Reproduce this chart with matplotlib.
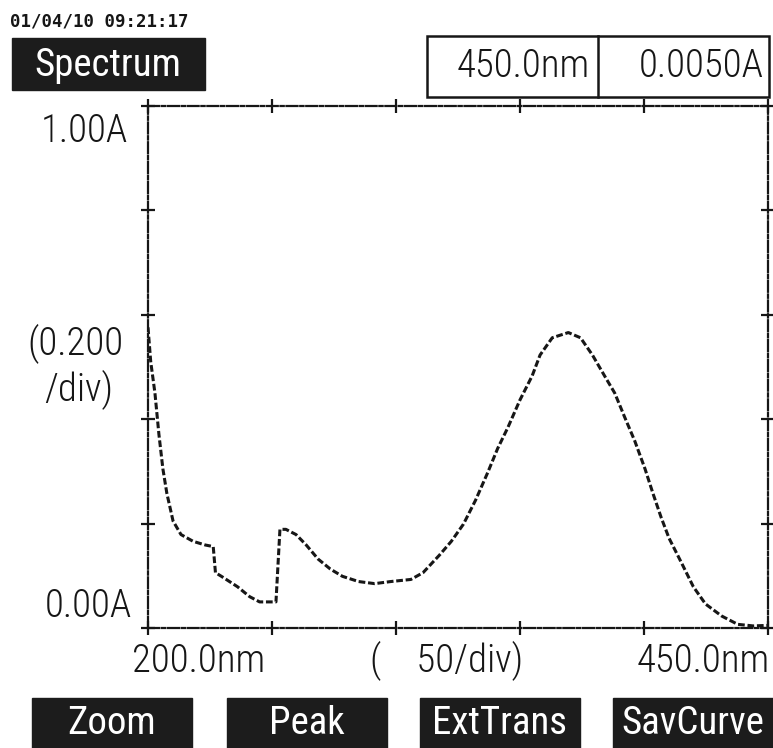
import matplotlib
matplotlib.use("Agg")
from matplotlib import pyplot as plt
from matplotlib import patches as mpatches
from matplotlib import font_manager as fm

W, H = 773, 748

# spectrum
wavelength = [200.0, 201.1, 202.8, 204.4, 206.0, 207.6, 210.1, 213.3, 218.2, 223.1,
              226.3, 227.2, 229.6, 236.1, 241.0, 245.0, 251.6, 253.2, 255.6, 259.7,
              263.8, 268.6, 273.5, 278.4, 284.9, 291.4, 297.9, 306.0, 310.9, 317.4,
              322.3, 327.2, 332.1, 337.0, 341.0, 345.1, 350.0, 354.9, 358.1, 363.0,
              369.5, 374.4, 379.2, 384.1, 388.2, 392.2, 396.3, 400.4, 403.6, 406.9,
              410.1, 415.0, 419.9, 424.8, 431.3, 437.8, 444.0, 450.0]
absorbance = [0.576, 0.510, 0.450, 0.371, 0.305, 0.258, 0.205, 0.179, 0.166, 0.159,
              0.156, 0.106, 0.099, 0.079, 0.060, 0.050, 0.050, 0.189, 0.189, 0.179,
              0.159, 0.132, 0.113, 0.099, 0.089, 0.085, 0.089, 0.093, 0.106, 0.139,
              0.166, 0.199, 0.245, 0.298, 0.344, 0.384, 0.437, 0.483, 0.523, 0.556,
              0.566, 0.556, 0.523, 0.483, 0.450, 0.404, 0.358, 0.305, 0.258, 0.212,
              0.172, 0.126, 0.079, 0.046, 0.023, 0.007, 0.004, 0.005]

x_ticks = [200, 250, 300, 350, 400, 450]
y_ticks = [0.0, 0.2, 0.4, 0.6, 0.8, 1.0]
cursor_wl = 450.0
cursor_abs = 0.0050
stamp = "01/04/10 09:21:17"
buttons = ["Zoom", "Peak", "ExtTrans", "SavCurve"]

INK = "#161616"

# narrow font if there is one, otherwise mono with a smaller size
FONT, BIG = "DejaVu Sans Mono", 23
for name, size in [("Liberation Sans Narrow", 32), ("Roboto Condensed", 28),
                   ("Open Sans Condensed", 28), ("DejaVu Sans Condensed", 25)]:
    try:
        fm.findfont(name, fallback_to_default=False)
        FONT, BIG = name, size
        break
    except Exception:
        pass


def px(x, y):
    return x / W, 1 - y / H


fig = plt.figure(figsize=(W / 100, H / 100), dpi=100)
fig.patch.set_facecolor("white")

l, b = px(148, 628)
r, t = px(768, 106)
ax = fig.add_axes([l, b, r - l, t - b])
ax.plot(wavelength, absorbance, color=INK, lw=2.2, ls=(0, (2.2, 0.9)))
ax.set_xlim(200, 450)
ax.set_ylim(0, 1.0)
ax.set_xticks(x_ticks)
ax.set_yticks(y_ticks)
ax.set_xticklabels([])
ax.set_yticklabels([])
ax.tick_params(direction="inout", length=10, width=1.6, color=INK,
               top=True, right=True)
for s in ax.spines.values():
    s.set_color(INK)
    s.set_linewidth(1.6)
    s.set_linestyle((0, (5, 1.2, 1.5, 1.2)))

txt = dict(family=FONT, color=INK, fontsize=BIG, fontweight="light")

fig.text(*px(10, 22), stamp, family="DejaVu Sans Mono", fontweight="bold",
         fontsize=12.5, color=INK, va="center", ha="left")

# title tab
fig.patches.append(mpatches.Rectangle(px(12, 90), 193 / W, 52 / H,
                   transform=fig.transFigure, color="#1c1c1c"))
fig.text(*px(108, 65), "Spectrum", family=FONT, color="white",
         fontsize=BIG, ha="center", va="center")

# cursor readout
fig.patches.append(mpatches.Rectangle(px(427, 97), 342 / W, 61 / H,
                   transform=fig.transFigure, fill=False, ec=INK, lw=1.8))
fig.lines.append(plt.Line2D([598 / W, 598 / W], [1 - 36 / H, 1 - 97 / H],
                 transform=fig.transFigure, color=INK, lw=1.8))
fig.text(*px(590, 66), f"{cursor_wl:.1f}nm", ha="right", va="center", **txt)
fig.text(*px(764, 66), f"{cursor_abs:.4f}A", ha="right", va="center", **txt)

# axis labels
fig.text(*px(128, 131), "1.00A", ha="right", va="center", **txt)
fig.text(*px(124, 344), "(0.200", ha="right", va="center", **txt)
fig.text(*px(113, 390), "/div)", ha="right", va="center", **txt)
fig.text(*px(132, 606), "0.00A", ha="right", va="center", **txt)
fig.text(*px(132, 661), "200.0nm", ha="left", va="center", **txt)
fig.text(*px(370, 661), "(    50/div)", ha="left", va="center", **txt)
fig.text(*px(770, 661), "450.0nm", ha="right", va="center", **txt)

# soft keys
keys_x = [32, 227, 420, 613]
for x0, name in zip(keys_x, buttons):
    fig.patches.append(mpatches.Rectangle(px(x0, 748), 160 / W, 50 / H,
                       transform=fig.transFigure, color="#1c1c1c"))
    fig.text(*px(x0 + 80, 724), name, family=FONT, color="white",
             fontsize=BIG, ha="center", va="center")

fig.savefig("out.png", dpi=100)
